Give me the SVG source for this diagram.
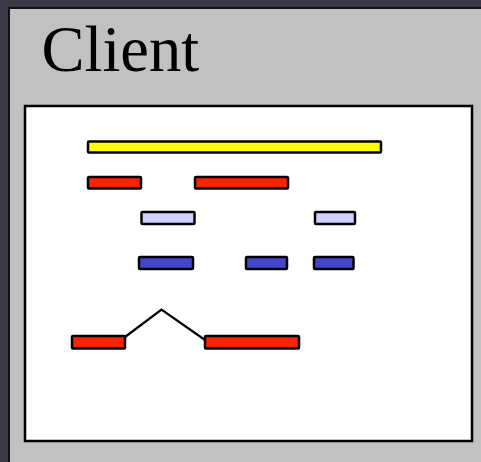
<svg xmlns="http://www.w3.org/2000/svg" width="481" height="462" viewBox="0 0 481 462">
<style>
.bar{stroke:#000;stroke-width:2.5;}
.red{fill:#ff2200;}
.yel{fill:#ffff00;}
.lb{fill:#d0d0ff;}
.bl{fill:#4444cc;}
</style>
<rect x="0" y="0" width="481" height="462" fill="#393948"/>
<g id="client">
<rect x="9" y="8" width="480" height="462" fill="#c0c1c0" stroke="#111" stroke-width="2"/>
<text x="41.5" y="71" font-family="'Liberation Serif', 'Times New Roman', serif" font-size="64.5" fill="#000">Client</text>
<rect x="25" y="106" width="447" height="335" fill="#fff" stroke="#000" stroke-width="2.5"/>
</g>
<g id="bars">
<rect id="yellow" class="bar yel" x="88" y="141.5" width="293" height="11" rx="1"/>
<rect id="red1" class="bar red" x="88" y="177" width="53" height="11.5" rx="1"/>
<rect id="red2" class="bar red" x="195" y="177" width="93" height="11.5" rx="1"/>
<rect id="lb1" class="bar lb" x="141.5" y="212" width="53" height="12" rx="1"/>
<rect id="lb2" class="bar lb" x="315" y="212" width="40" height="12" rx="1"/>
<rect id="bl1" class="bar bl" x="139" y="257" width="54" height="12" rx="1"/>
<rect id="bl2" class="bar bl" x="246" y="257" width="41" height="12" rx="1"/>
<rect id="bl3" class="bar bl" x="314" y="257" width="39.5" height="12" rx="1"/>
<rect id="red3" class="bar red" x="72" y="336" width="53" height="12.5" rx="1"/>
<rect id="red4" class="bar red" x="205" y="336" width="94" height="12.5" rx="1"/>
</g>
<g id="connectors">
<polyline points="125,337 161.5,309.5 205,340" fill="none" stroke="#000" stroke-width="2.2"/>
</g>
</svg>
